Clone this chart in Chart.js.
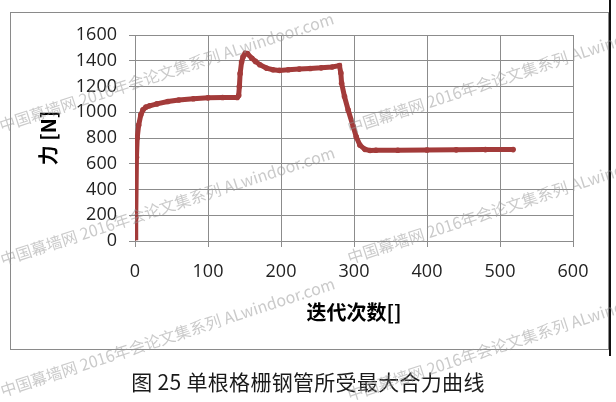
<!DOCTYPE html>
<html>
<head>
<meta charset="utf-8">
<script src="https://cdn.jsdelivr.net/npm/chart.js@4.4.1/dist/chart.umd.min.js"></script>
<style>
  html, body { margin: 0; padding: 0; background: #fff; }
  #wrap { position: relative; width: 616px; height: 402px; overflow: hidden; }
  #chart { position: absolute; left: 0; top: 0; }
  #caption {
    position: absolute; left: 0; top: 371px; width: 616px;
    text-align: center; font: 21px/21px "Noto Sans CJK SC", sans-serif; color: #1a1a1a;
    letter-spacing: 0.3px;
  }
  .wm {
    position: absolute; white-space: nowrap; pointer-events: none;
    font: 16px/16px "Noto Sans CJK SC", sans-serif; color: rgba(150, 150, 150, 0.5);
    transform-origin: 0 100%; transform: rotate(-18deg);
  }
</style>
</head>
<body>
<div id="wrap">
  <canvas id="chart" width="616" height="402"></canvas>
  <div id="caption">图 25 单根格栅钢管所受最大合力曲线</div>
</div>
<script>
// iteration number and max resultant force [N]
const iterations = [0, 1, 2, 3, 5, 8, 11, 15, 20, 30, 45, 60, 80, 100, 120, 140,
  142, 143, 144, 146, 148, 151, 154, 160, 165, 171, 180, 189, 198, 210, 225, 240, 255, 270, 280,
  282, 283, 287, 292, 299, 303, 308, 315, 322, 330, 360, 400, 440, 480, 518];
const force = [25, 180, 650, 800, 900, 980, 1020, 1040, 1050, 1065, 1083, 1095, 1105, 1112, 1115, 1115,
  1130, 1200, 1300, 1390, 1430, 1458, 1455, 1420, 1395, 1369, 1343, 1330, 1325, 1330, 1335, 1340, 1345, 1352, 1362,
  1304, 1226, 1122, 1018, 888, 810, 745, 712, 703, 705, 705, 707, 708, 710, 710];

const xTicks = [0, 600, 100];   // min, max, step
const yTicks = [0, 1600, 200];

const xTitle = '迭代次数[]';
const yTitle = '力 [N]';
const watermark = '中国幕墙网 2016年会论文集系列 ALwindoor.com';

const points = iterations.map((x, i) => ({ x: x, y: force[i] }));

// outer frame around the chart
const framePlugin = {
  id: 'frame',
  beforeDraw(chart) {
    const ctx = chart.ctx;
    ctx.save();
    ctx.strokeStyle = '#8a8a8a';
    ctx.lineWidth = 1;
    ctx.strokeRect(10.5, 12.5, 598, 337);
    ctx.strokeStyle = '#111';
    ctx.lineWidth = 2;
    ctx.beginPath();
    ctx.moveTo(610, 0);
    ctx.lineTo(610, 356);
    ctx.stroke();
    ctx.restore();
  }
};

const tickFont = { family: '"Open Sans", sans-serif', size: 18 };
const titleFont = { family: '"Noto Sans CJK SC", sans-serif', size: 20, weight: 'bold' };
const gridColor = '#8c8c8c';
const plain = v => String(v);

new Chart(document.getElementById('chart'), {
  type: 'line',
  data: {
    datasets: [{
      data: points,
      borderColor: '#A33B3A',
      backgroundColor: '#A33B3A',
      borderWidth: 5,
      pointRadius: 2.8,
      pointBorderWidth: 0,
      pointBackgroundColor: '#A33B3A',
      tension: 0
    }]
  },
  options: {
    responsive: false,
    animation: false,
    devicePixelRatio: 1,
    layout: { padding: { left: 10, top: 35, right: 43, bottom: 53 } },
    plugins: { legend: { display: false }, tooltip: { enabled: false } },
    scales: {
      x: {
        type: 'linear',
        min: xTicks[0], max: xTicks[1],
        afterFit(s) { s.height = 108; },
        ticks: { stepSize: xTicks[2], font: tickFont, color: '#222', padding: 14, maxRotation: 0, callback: plain },
        grid: { color: gridColor, tickLength: 6, lineWidth: 1 },
        border: { color: gridColor },
        title: { display: true, text: xTitle, font: titleFont, color: '#000', padding: { top: 0, bottom: 25 } }
      },
      y: {
        min: yTicks[0], max: yTicks[1],
        afterFit(s) { s.width = 125; },
        ticks: { stepSize: yTicks[2], font: tickFont, color: '#222', padding: 12, callback: plain },
        grid: { color: gridColor, tickLength: 6, lineWidth: 1 },
        border: { color: gridColor },
        title: { display: true, text: yTitle, font: titleFont, color: '#000', padding: { top: 26, bottom: 0 } }
      }
    }
  },
  plugins: [framePlugin]
});

// watermark overlay (baseline start points)
const wmSpots = [[2, 133], [350, 135], [3, 267], [350, 265], [3, 398], [350, 402]];
const wrap = document.getElementById('wrap');
wmSpots.forEach(p => {
  const el = document.createElement('div');
  el.className = 'wm';
  el.textContent = watermark;
  el.style.left = p[0] + 'px';
  el.style.top = (p[1] - 16) + 'px';
  wrap.appendChild(el);
});
</script>
</body>
</html>
